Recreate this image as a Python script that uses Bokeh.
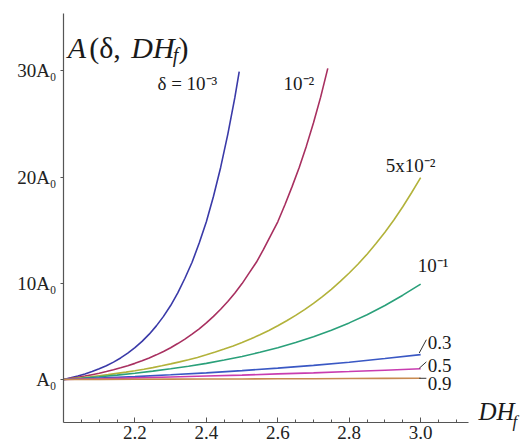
from bokeh.plotting import figure
from bokeh.models import FixedTicker, Label, ColumnDataSource, Range1d, LinearAxis
from bokeh.core.properties import value
from bokeh.embed import file_html
from bokeh.resources import INLINE

# ---- data ----
x_d1e3 = [2.00, 2.02, 2.04, 2.06, 2.08, 2.10, 2.12, 2.14, 2.16, 2.18, 2.20, 2.22, 2.24,
          2.26, 2.28, 2.30, 2.32, 2.34, 2.36, 2.38, 2.40, 2.42, 2.44, 2.46, 2.48, 2.492]
y_d1e3 = [1.00, 1.15, 1.32, 1.51, 1.74, 2.00, 2.29, 2.63, 3.02, 3.47, 3.98, 4.57, 5.25,
          6.03, 6.92, 7.94, 9.12, 10.5, 12.0, 13.8, 15.8, 18.2, 20.9, 24.0, 27.5, 29.9]

x_d1e2 = [2.00, 2.02, 2.04, 2.06, 2.08, 2.10, 2.12, 2.14, 2.16, 2.18, 2.20, 2.22, 2.24,
          2.26, 2.28, 2.30, 2.32, 2.34, 2.36, 2.38, 2.40, 2.42, 2.44, 2.46, 2.48, 2.50,
          2.52, 2.54, 2.56, 2.58, 2.60, 2.62, 2.64, 2.66, 2.68, 2.70, 2.72, 2.74]
y_d1e2 = [1.00, 1.10, 1.20, 1.32, 1.45, 1.58, 1.74, 1.91, 2.09, 2.29, 2.51, 2.75, 3.02,
          3.31, 3.63, 3.98, 4.37, 4.79, 5.25, 5.75, 6.31, 6.92, 7.59, 8.32, 9.12, 10.0,
          11.0, 12.0, 13.2, 14.5, 15.8, 17.4, 19.1, 20.9, 22.9, 25.1, 27.5, 30.2]

x_d5e2 = [2.000, 2.025, 2.050, 2.075, 2.100, 2.125, 2.150, 2.175, 2.200, 2.225, 2.250,
          2.275, 2.300, 2.325, 2.350, 2.375, 2.400, 2.425, 2.450, 2.475, 2.500, 2.525,
          2.550, 2.575, 2.600, 2.625, 2.650, 2.675, 2.700, 2.725, 2.750, 2.775, 2.800,
          2.825, 2.850, 2.875, 2.900, 2.925, 2.950, 2.975, 3.000]
y_d5e2 = [1.00, 1.08, 1.16, 1.25, 1.35, 1.45, 1.57, 1.69, 1.82, 1.96, 2.11,
          2.28, 2.46, 2.65, 2.85, 3.07, 3.31, 3.57, 3.85, 4.15, 4.47, 4.82,
          5.19, 5.60, 6.04, 6.51, 7.01, 7.56, 8.14, 8.78, 9.46, 10.20, 10.99,
          11.84, 12.76, 13.76, 14.82, 15.97, 17.21, 18.55, 19.95]

x_d1e1 = [2.00, 2.05, 2.10, 2.15, 2.20, 2.25, 2.30, 2.35, 2.40, 2.45, 2.50,
          2.55, 2.60, 2.65, 2.70, 2.75, 2.80, 2.85, 2.90, 2.95, 3.00]
y_d1e1 = [1.00, 1.12, 1.26, 1.41, 1.58, 1.78, 2.00, 2.24, 2.51, 2.82, 3.16,
          3.55, 3.98, 4.47, 5.01, 5.62, 6.31, 7.08, 7.94, 8.91, 9.95]

x_tenth = [2.0, 2.1, 2.2, 2.3, 2.4, 2.5, 2.6, 2.7, 2.8, 2.9, 3.0]
y_d03 = [1.00, 1.13, 1.27, 1.44, 1.62, 1.83, 2.06, 2.32, 2.62, 2.96, 3.33]
y_d05 = [1.00, 1.07, 1.15, 1.23, 1.32, 1.41, 1.52, 1.62, 1.74, 1.87, 2.00]
y_d09 = [1.00, 1.01, 1.02, 1.03, 1.04, 1.05, 1.06, 1.07, 1.09, 1.10, 1.11]

series_labels = ["δ = 10⁻³", "10⁻²", "5x10⁻²", "10⁻¹", "0.3", "0.5", "0.9"]
x_ticks = [2.2, 2.4, 2.6, 2.8, 3.0]
x_tick_labels = ["2.2", "2.4", "2.6", "2.8", "3.0"]
y_ticks = [1, 10, 20, 30]
y_tick_labels = ["A₀", "10A₀", "20A₀", "30A₀"]

colors = ["#3a3aa8", "#a83060", "#b2b23a", "#2aa07a", "#3a58c4", "#c83cb0", "#c88a50"]

SERIF = "'Liberation Serif', 'Times New Roman', serif"

p = figure(width=526, height=446, output_backend="svg", toolbar_location=None,
           x_range=Range1d(2.0, 3.134), y_range=Range1d(-3.04, 35.35),
           min_border_left=63, min_border_right=58, min_border_top=13, min_border_bottom=24)
p.outline_line_color = None
p.grid.visible = False
p.background_fill_color = "white"
p.border_fill_color = "white"

data = [(x_d1e3, y_d1e3), (x_d1e2, y_d1e2), (x_d5e2, y_d5e2), (x_d1e1, y_d1e1),
        (x_tenth, y_d03), (x_tenth, y_d05), (x_tenth, y_d09)]
for (xs, ys), c in zip(data, colors):
    p.line(xs, ys, line_color=c, line_width=1.6)

# curve labels (left, baseline) in data units
lab_x = [2.263, 2.616, 2.902, 2.992, 3.020, 3.020, 3.020]
lab_y = [28.78, 28.78, 21.08, 11.7, 4.47, 2.31, 0.62]
src = ColumnDataSource(dict(x=lab_x, y=lab_y, t=series_labels))
p.text(x="x", y="y", text="t", source=src, text_font=value(SERIF),
       text_font_size="19px", text_color="#1a1a1a", text_baseline="alphabetic",
       text_align="left")

# leader lines for the small-delta labels
ends = [y_d03[-1], y_d05[-1], y_d09[-1]]
p.segment(x0=[2.996, 2.996, 2.996], y0=[ends[0] + 0.15, ends[1] + 0.05, ends[2]],
          x1=[3.016, 3.016, 3.016], y1=[ends[0] + 1.4, ends[1] + 0.65, ends[2]],
          line_color="#333333", line_width=1)

# axes
for ax in (p.xaxis[0], p.yaxis[0]):
    ax.axis_line_color = "#555555"
    ax.axis_line_width = 1.2
    ax.major_tick_line_color = "#555555"
    ax.minor_tick_line_color = "#555555"
    ax.major_label_text_font = SERIF
    ax.major_label_text_font_size = "19px"
    ax.major_label_text_color = "#222222"

p.xaxis.ticker = FixedTicker(ticks=x_ticks,
                             minor_ticks=[2.05, 2.1, 2.15, 2.25, 2.3, 2.35, 2.45, 2.5, 2.55,
                                          2.65, 2.7, 2.75, 2.85, 2.9, 2.95, 3.05, 3.1])
p.xaxis.major_label_overrides = dict(zip(x_ticks, x_tick_labels))
p.xaxis.major_tick_in = 5
p.xaxis.major_tick_out = 0
p.xaxis.minor_tick_in = 3
p.xaxis.minor_tick_out = 0
p.xaxis.major_label_standoff = 3

p.yaxis.ticker = FixedTicker(ticks=y_ticks, minor_ticks=[])
p.yaxis.major_label_overrides = dict(zip(y_ticks, y_tick_labels))
p.yaxis.major_tick_in = 0
p.yaxis.major_tick_out = 3
p.yaxis.major_label_standoff = 4

# x-axis name "DH_f" placed to the right of the axis end, via two label-only right axes
def name_axis(y, text, size, standoff):
    ax = LinearAxis(ticker=FixedTicker(ticks=[y], minor_ticks=[]),
                    major_label_overrides={y: text},
                    axis_line_color=None, major_tick_line_color=None,
                    minor_tick_line_color=None,
                    major_tick_in=0, major_tick_out=0,
                    major_label_text_font=SERIF, major_label_text_font_size=size,
                    major_label_text_font_style="italic",
                    major_label_text_color="#1a1a1a",
                    major_label_standoff=standoff)
    p.add_layout(ax, "right")

name_axis(-2.0, "DH", "25px", 10)
name_axis(-2.9, "f", "17px", -5)

# title pieces: A(δ, DH_f)
def lab(x, y, t, size, style="normal"):
    p.add_layout(Label(x=x, y=y, text=t, text_font=SERIF, text_font_size=size,
                       text_font_style=style, text_color="#1a1a1a",
                       text_baseline="alphabetic", text_align="left"))

lab(2.012, 32.16, "A", "30px", "italic")
lab(2.072, 32.16, "(δ,", "30px")
lab(2.190, 32.16, "DH", "30px", "italic")
lab(2.306, 31.5, "f", "20px", "italic")
lab(2.322, 32.16, ")", "30px")

open("out.html", "w").write(file_html(p, INLINE))
